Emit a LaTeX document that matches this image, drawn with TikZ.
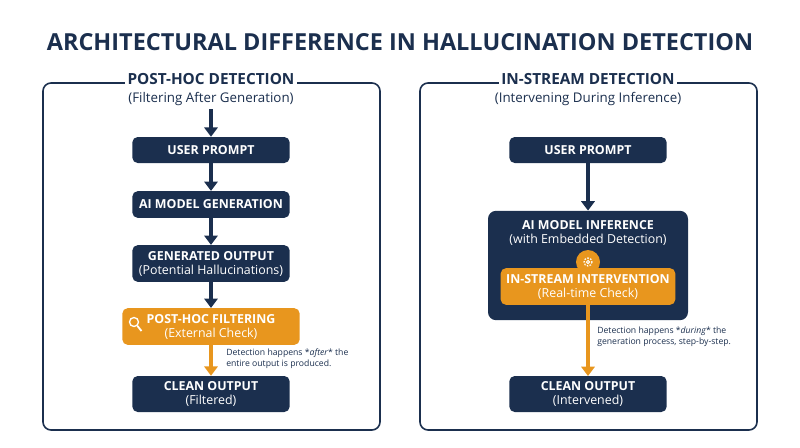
\documentclass[tikz,border=0pt]{standalone}
\usepackage{fontspec}
\setmainfont{Open Sans}
\usetikzlibrary{positioning,arrows.meta}
\definecolor{navy}{HTML}{1B2F4E}
\definecolor{amber}{HTML}{E8961E}
\tikzset{
  blk/.style={fill=navy, text=white, rounded corners=4pt, minimum width=118pt, align=center, font=\fontsize{9.3}{10.5}\selectfont, inner sep=1pt},
  hot/.style={blk, fill=amber, minimum width=133pt},
  panel/.style={draw=navy, line width=1.2pt, rounded corners=6pt},
  flow/.style={-{Triangle[length=7pt,width=10pt]}, line width=2.6pt, navy},
  oflow/.style={flow, amber},
  note/.style={font=\fontsize{6.5}{8}\selectfont, align=left, anchor=north west, inner sep=0pt, text=navy}
}
\begin{document}
\begin{tikzpicture}[x=0.75pt,y=-0.75pt]
\useasboundingbox (0,0) rectangle (800,447);
% title
\node (title) at (400,42) {\fontsize{17.6}{20}\selectfont\bfseries\color{navy} ARCHITECTURAL DIFFERENCE IN HALLUCINATION DETECTION};
% panels
\draw [panel] (43,83) rectangle (380,430);
\draw [panel] (420,83) rectangle (757,430);
\node [fill=white, font=\fontsize{11.5}{13}\selectfont\bfseries, text=navy, inner sep=2pt] (lhead) at (211,79) {POST-HOC DETECTION};
\node [fill=white, font=\fontsize{10}{12}\selectfont, text=navy, inner sep=1pt] (lsub) at (211,99) {(Filtering After Generation)};
\node [fill=white, font=\fontsize{11.5}{13}\selectfont\bfseries, text=navy, inner sep=2pt] (rhead) at (588,79) {IN-STREAM DETECTION};
\node [fill=white, font=\fontsize{10}{12}\selectfont, text=navy, inner sep=1pt] (rsub) at (588,99) {(Intervening During Inference)};
% left column
\coordinate (lin) at (211,109);
\node [blk, minimum height=19.5pt] (lprompt) at (211,150) {\bfseries USER PROMPT};
\node [blk, minimum height=20pt] (lgen) at (211,204.5) {\bfseries AI MODEL GENERATION};
\node [blk, minimum height=27.5pt] (lout) at (211,263.5) {\bfseries GENERATED OUTPUT\\(Potential Hallucinations)};
\node [hot, minimum height=27.5pt] (lfilter) at (211,326.5) {\bfseries POST-HOC FILTERING\\(External Check)};
\node [blk, minimum height=27pt] (lclean) at (211,394) {\bfseries CLEAN OUTPUT\\(Filtered)};
\draw [white, line width=1pt] (134,322) circle (4.5);
\draw [white, line width=1.4pt] (137.5,326) -- (141.5,331);
\draw [flow] (lin) -- (lprompt);
\draw [flow] (lprompt) -- (lgen);
\draw [flow] (lgen) -- (lout);
\draw [flow] (lout) -- (lfilter);
\draw [oflow] (lfilter) -- (lclean);
\node [note] (lnote) at (226,349) {Detection happens *\textit{after}* the\\entire output is produced.};
% right column
\coordinate (rin) at (588,109);
\node [blk, minimum height=19.5pt] (rprompt) at (588,150) {\bfseries USER PROMPT};
\node [blk, minimum width=150pt, minimum height=82pt, rounded corners=6pt] (rinfer) at (588,265.5) {};
\node [text=white, align=center, font=\fontsize{9.3}{11}\selectfont] (rinfertxt) at (588,233) {\bfseries AI MODEL INFERENCE\\(with Embedded Detection)};
\node [hot, minimum width=131pt, minimum height=27.5pt] (rinter) at (588,286.5) {\bfseries IN-STREAM INTERVENTION\\(Real-time Check)};
\node [circle, fill=amber, minimum size=18pt, inner sep=0pt] (gear) at (588,262) {};
\draw [white, line width=0.9pt, dash pattern=on 1.2pt off 1pt] (gear) circle (4);
\draw [white, line width=0.7pt] (gear) circle (1.6);
\draw [flow] (rprompt) -- (rinfer);
\coordinate (rmid) at (588,305);
\draw [oflow] (rmid) -- (588,376);
\node [blk, minimum height=27pt] (rclean) at (588,394) {\bfseries CLEAN OUTPUT\\(Intervened)};
\node [note] (rnote) at (597,327) {Detection happens *\textit{during}* the\\generation process, step-by-step.};
\end{tikzpicture}
\end{document}
